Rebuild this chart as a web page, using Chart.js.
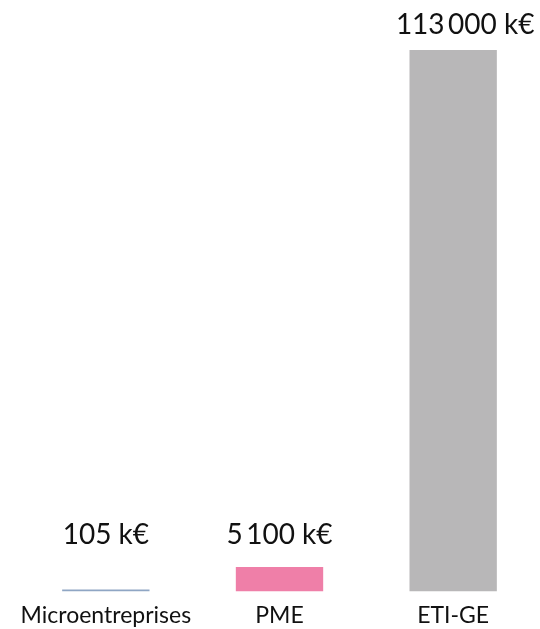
<!DOCTYPE html>
<html lang="fr">
<head>
<meta charset="utf-8">
<script src="https://cdn.jsdelivr.net/npm/chart.js@4"></script>
<style>
  html, body { margin: 0; padding: 0; background: #fff; overflow: hidden; }
  #wrap { width: 540px; height: 629px; position: relative; }
</style>
</head>
<body>
<div id="wrap"><canvas id="chart"></canvas></div>
<script>
// Données
const categories = ['Microentreprises', 'PME', 'ETI-GE'];
const valeurs = [105, 5100, 113000];
const etiquettes = ['105 k€', '5\u2009100 k€', '113\u2009000 k€'];
const couleurs = ['#8fa6c4', '#ef7fa8', '#b8b7b8'];

// Étiquettes de valeur au-dessus des barres
const etiquettesPlugin = {
  id: 'etiquettes',
  afterDatasetsDraw(chart) {
    const ctx = chart.ctx;
    const meta = chart.getDatasetMeta(0);
    const base = chart.chartArea.bottom;
    ctx.save();
    ctx.font = '28px Lato';
    ctx.fillStyle = '#111';
    ctx.textAlign = 'center';
    ctx.textBaseline = 'alphabetic';
    meta.data.forEach((bar, i) => {
      const y = Math.min(bar.y - 16, base - 47);
      const x = i === meta.data.length - 1 ? bar.x + 12 : bar.x;
      ctx.fillText(etiquettes[i], x, y);
    });
    ctx.restore();
  }
};

const config = {
  type: 'bar',
  data: {
    labels: categories,
    datasets: [{
      data: valeurs,
      backgroundColor: couleurs,
      barPercentage: 0.503,
      categoryPercentage: 1,
      minBarLength: 2
    }]
  },
  options: {
    responsive: true,
    maintainAspectRatio: false,
    animation: false,
    layout: { padding: { top: 50, left: 19, right: -3, bottom: -10 } },
    plugins: {
      legend: { display: false },
      tooltip: { enabled: false }
    },
    scales: {
      y: { display: false, min: 0, max: 113000 },
      x: {
        grid: { display: false, drawTicks: false },
        border: { display: false },
        ticks: {
          color: '#111',
          padding: 10,
          maxRotation: 0,
          minRotation: 0,
          autoSkip: false,
          font: { family: 'Lato', size: 23 }
        }
      }
    }
  },
  plugins: [etiquettesPlugin]
};

new Chart(document.getElementById('chart'), config);
</script>
</body>
</html>
